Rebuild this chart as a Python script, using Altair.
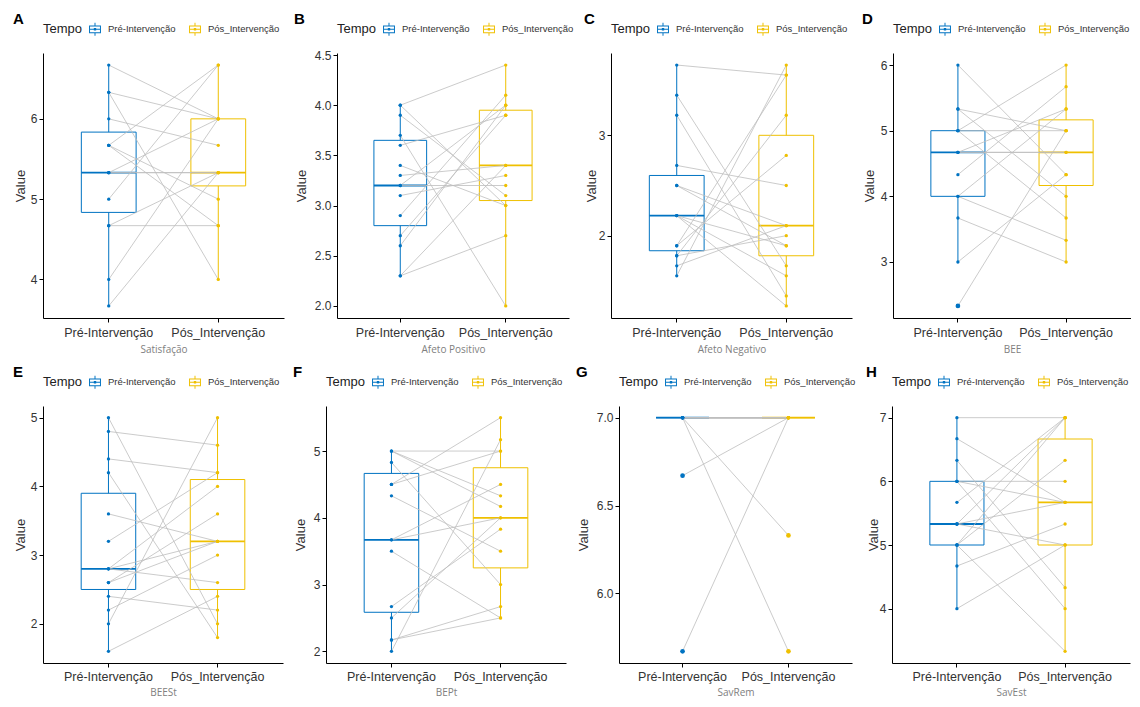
import altair as alt
import pandas as pd
import numpy as np

PRE = "Pré-Intervenção"
POS = "Pós_Intervenção"
tempo_levels = [PRE, POS]
tempo_colors = ["#0073C2", "#EFC000"]

panel_labels = ["A", "B", "C", "D", "E", "F", "G", "H"]
panel_titles = ["Satisfação", "Afeto Positivo", "Afeto Negativo", "BEE",
                "BEESt", "BEPt", "SavRem", "SavEst"]

# paired values (same subject order in pre and post lists)
sat_pre = [6.67, 6.33, 6.33, 6.0, 5.67, 5.67, 5.67, 5.33, 5.33, 5.33, 5.0, 4.67, 4.67, 4.0, 3.67]
sat_post = [6.0, 6.0, 4.0, 5.67, 6.67, 5.0, 4.67, 5.33, 6.0, 5.33, 6.67, 4.67, 5.33, 6.0, 5.33]

ap_pre = [4.0, 4.0, 3.9, 3.7, 3.6, 3.4, 3.3, 3.2, 3.2, 3.1, 2.9, 2.7, 2.6, 2.3, 2.3]
ap_post = [4.4, 3.0, 3.1, 2.0, 3.9, 3.0, 3.4, 3.2, 4.0, 3.3, 4.1, 3.9, 4.0, 2.7, 3.4]

an_pre = [3.7, 3.4, 3.2, 2.7, 2.5, 2.5, 2.2, 2.2, 2.2, 1.9, 1.9, 1.8, 1.8, 1.7, 1.6]
an_post = [3.6, 1.7, 1.4, 2.5, 2.1, 1.9, 1.9, 1.6, 1.3, 3.6, 2.8, 2.0, 3.2, 2.1, 3.7]

bee_pre = [6.0, 5.33, 5.33, 5.0, 5.0, 5.0, 4.67, 4.67, 4.67, 4.33, 4.0, 4.0, 3.67, 3.0, 2.33]
bee_post = [4.33, 5.0, 4.0, 6.0, 5.0, 3.67, 4.67, 5.33, 4.67, 5.67, 5.33, 3.33, 3.0, 4.33, 5.0]

beest_pre = [5.0, 4.8, 4.4, 4.2, 3.6, 3.2, 2.8, 2.8, 2.8, 2.6, 2.6, 2.4, 2.2, 2.0, 1.6]
beest_post = [2.0, 4.6, 4.2, 1.8, 3.2, 4.2, 2.6, 4.0, 3.2, 3.6, 3.2, 2.2, 3.0, 5.0, 2.4]

bept_pre = [5.0, 5.0, 5.0, 4.83, 4.5, 4.5, 4.33, 3.67, 3.67, 3.5, 2.67, 2.5, 2.17, 2.17, 2.0]
bept_post = [5.0, 4.33, 4.17, 3.0, 5.5, 5.0, 3.5, 4.0, 4.5, 2.5, 3.83, 4.0, 2.67, 2.5, 5.17]

savrem_pre = [7.0, 7.0, 6.67, 5.67, 7.0, 7.0, 7.0, 7.0, 7.0, 7.0, 7.0, 7.0, 7.0, 7.0, 7.0]
savrem_post = [6.33, 5.67, 7.0, 7.0, 7.0, 7.0, 7.0, 7.0, 7.0, 7.0, 7.0, 7.0, 7.0, 7.0, 7.0]

savest_pre = [7.0, 6.67, 6.33, 6.0, 6.0, 6.0, 5.67, 5.33, 5.33, 5.33, 5.0, 5.0, 5.0, 4.67, 4.0]
savest_post = [7.0, 5.67, 4.33, 6.0, 5.67, 4.0, 7.0, 7.0, 5.67, 5.0, 7.0, 6.33, 3.33, 5.33, 5.0]

series = [(sat_pre, sat_post), (ap_pre, ap_post), (an_pre, an_post), (bee_pre, bee_post),
          (beest_pre, beest_post), (bept_pre, bept_post), (savrem_pre, savrem_post),
          (savest_pre, savest_post)]

y_ticks = [[4, 5, 6], [2.0, 2.5, 3.0, 3.5, 4.0, 4.5], [2, 3], [3, 4, 5, 6],
           [2, 3, 4, 5], [2, 3, 4, 5], [6.0, 6.5, 7.0], [4, 5, 6, 7]]
y_formats = ["d", ".1f", "d", "d", "d", "d", ".1f", "d"]

# layout (pixels)
plot_widths = [241, 232, 241, 238, 240, 240, 233, 238]
plot_heights = [265, 265, 265, 265, 257, 257, 257, 257]
y_extent = [13, 23, 12, 13, 13, 13, 23, 12]
y_title_pad = [3, 6, 1, 4, 3, 6, 6, 0]
x_label_pad = [4, 4, 4, 4, 3, 3, 3, 3]
x_title_pad = [6, 6, 6, 6, 5, 5, 5, 5]

FONT = "Liberation Sans"
color_scale = alt.Scale(domain=tempo_levels, range=tempo_colors)

# boxplot-like legend glyph: hollow box, median bar, whiskers and a centre dot
BOX_GLYPH = ("M-0.85,-0.55L0.85,-0.55L0.85,0.55L-0.85,0.55Z"
             "M-0.71,-0.41L-0.71,0.41L0.71,0.41L0.71,-0.41Z"
             "M-0.71,-0.07L0.71,-0.07L0.71,0.07L-0.71,0.07Z"
             "M-0.07,-0.92L0.07,-0.92L0.07,-0.55L-0.07,-0.55Z"
             "M-0.07,0.55L0.07,0.55L0.07,0.92L-0.07,0.92Z"
             "M-0.17,-0.17L0.17,-0.17L0.17,0.17L-0.17,0.17Z")

legend = alt.Legend(title="Tempo", orient="top", direction="horizontal",
                    titleOrient="left", symbolType=BOX_GLYPH,
                    symbolSize=196, symbolStrokeWidth=0,
                    labelFontSize=9.5, labelFont=FONT,
                    labelColor="#333333", titleFont=FONT,
                    titleFontSize=13, titleFontWeight="normal",
                    titleColor="#222222", columnPadding=12,
                    labelOffset=6, offset=17, titlePadding=5)


def box_stats(vals):
    v = np.array(vals, dtype=float)
    q1, med, q3 = np.percentile(v, [25, 50, 75])
    iqr = q3 - q1
    inside = v[(v >= q1 - 1.5 * iqr) & (v <= q3 + 1.5 * iqr)]
    return q1, med, q3, inside.min(), inside.max(), q1 - 1.5 * iqr, q3 + 1.5 * iqr


def panel(i):
    pre, post = series[i]
    rows, stats = [], []
    for tempo, vals in ((PRE, pre), (POS, post)):
        q1, med, q3, lo, hi, flo, fhi = box_stats(vals)
        stats.append(dict(Tempo=tempo, q1=q1, med=med, q3=q3, lo=lo, hi=hi))
        for s, v in enumerate(vals):
            rows.append(dict(subject=s, Tempo=tempo, value=v,
                             outlier=bool(v < flo or v > fhi)))
    pts = pd.DataFrame(rows)
    st = pd.DataFrame(stats)
    allv = pts["value"]
    rng = allv.max() - allv.min()
    ydom = [allv.min() - 0.05 * rng, allv.max() + 0.05 * rng]
    yscale = alt.Scale(domain=ydom, nice=False, zero=False)

    x = alt.X("Tempo:N", sort=tempo_levels,
              scale=alt.Scale(domain=tempo_levels, paddingInner=0.5, paddingOuter=0.35),
              axis=alt.Axis(title=panel_titles[i], labelAngle=0, labelFontSize=12.5,
                            labelColor="#333333", labelFont=FONT, tickSize=4,
                            tickColor="black", domainColor="black",
                            labelPadding=x_label_pad[i],
                            titleFont="Open Sans", titleFontSize=10, titleColor="#808080",
                            titleFontWeight="normal", titlePadding=x_title_pad[i]))
    yaxis = alt.Axis(title="Value", values=y_ticks[i], format=y_formats[i], grid=False,
                     labelFontSize=12, labelColor="#333333", labelFont=FONT,
                     titleFont=FONT, titleFontSize=13, titleColor="#333333",
                     titleFontWeight="normal", tickSize=4, tickColor="black",
                     domainColor="black", labelPadding=2,
                     titlePadding=y_title_pad[i], minExtent=y_extent[i],
                     maxExtent=y_extent[i])
    stroke = alt.Stroke("Tempo:N", scale=color_scale, legend=legend)

    base_st = alt.Chart(st)
    whisk_lo = base_st.mark_rule(strokeWidth=1).encode(
        x=x, y=alt.Y("lo:Q", scale=yscale, axis=yaxis), y2="q1:Q", stroke=stroke)
    whisk_hi = base_st.mark_rule(strokeWidth=1).encode(
        x=x, y=alt.Y("q3:Q", scale=yscale, axis=yaxis), y2="hi:Q", stroke=stroke)
    box = base_st.mark_bar(filled=False, strokeWidth=1).encode(
        x=x, y=alt.Y("q1:Q", scale=yscale, axis=yaxis), y2="q3:Q", stroke=stroke)
    med = base_st.mark_bar(filled=False, strokeWidth=1.8).encode(
        x=x, y=alt.Y("med:Q", scale=yscale, axis=yaxis), y2="med:Q", stroke=stroke)
    base_p = alt.Chart(pts)
    lines = base_p.mark_line(color="#BEBEBE", strokeWidth=0.8).encode(
        x=x, y=alt.Y("value:Q", scale=yscale, axis=yaxis), detail="subject:N")
    dots = base_p.mark_circle(size=11, opacity=1).encode(
        x=x, y=alt.Y("value:Q", scale=yscale, axis=yaxis),
        color=alt.Color("Tempo:N", scale=color_scale, legend=None))
    outl = base_p.transform_filter("datum.outlier").mark_circle(size=22, opacity=1).encode(
        x=x, y=alt.Y("value:Q", scale=yscale, axis=yaxis),
        color=alt.Color("Tempo:N", scale=color_scale, legend=None))
    return alt.layer(box, whisk_lo, whisk_hi, med, lines, dots, outl).properties(
        width=plot_widths[i], height=plot_heights[i],
        title=alt.TitleParams(panel_labels[i], anchor="start", frame="bounds",
                              fontSize=15, fontWeight="bold", font=FONT,
                              color="black", offset=-5, dx=-1))


def row(idx):
    return alt.hconcat(*[panel(i) for i in idx], spacing=10).resolve_scale(
        stroke="independent", color="independent", y="independent", x="independent"
    ).resolve_legend(stroke="independent", color="independent")


chart = alt.vconcat(row([0, 1, 2, 3]), row([4, 5, 6, 7]), spacing=10).resolve_scale(
    stroke="independent", color="independent", y="independent", x="independent"
).resolve_legend(stroke="independent", color="independent").configure_view(
    stroke=None
).properties(padding={"left": 5, "top": 4, "right": 0, "bottom": 0}, background="white")

chart.save("out.html", embed_options={"renderer": "svg", "actions": False})
